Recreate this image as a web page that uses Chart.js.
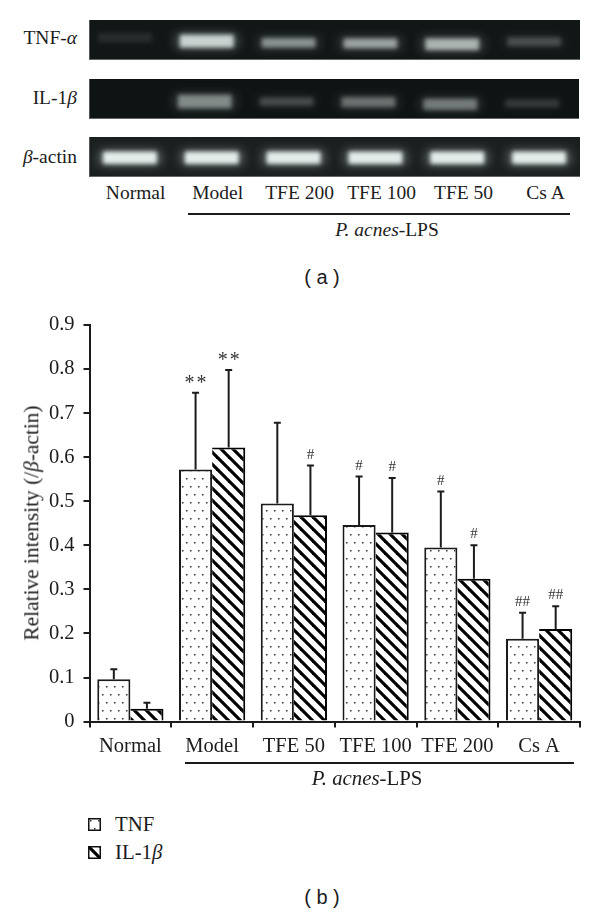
<!DOCTYPE html>
<html>
<head>
<meta charset="utf-8">
<script src="https://cdn.jsdelivr.net/npm/chart.js@4"></script>
<style>
  html, body { margin: 0; padding: 0; background: #fff; }
  #page { position: relative; width: 600px; height: 915px; overflow: hidden; font-family: "Liberation Serif", serif; color: #1c1c1c; }
  .strip { position: absolute; overflow: hidden; box-sizing: border-box; border-bottom: 1px solid #666; border-left: 1px solid #555; }
  .strip canvas { position: absolute; top: 0; }
  .lbl { position: absolute; white-space: nowrap; line-height: 1; font-size: 19.5px; }
  .big { font-size: 20.8px; }
  .rule { position: absolute; height: 1.5px; background: #1c1c1c; }
  .panel { font-family: "Liberation Sans", sans-serif; font-size: 20px; }
  #plot { position: absolute; left: 0; top: 300px; }
</style>
</head>
<body>
<div id="page"></div>
<script>
/******************************************************************
DATA
******************************************************************/
// panel b
const categories = ["Normal", "Model", "TFE 50", "TFE 100", "TFE 200", "Cs A"];
const tnfValues = [0.096, 0.572, 0.495, 0.446, 0.395, 0.188];
const tnfUpper = [0.119, 0.746, 0.678, 0.556, 0.522, 0.247];
const ilValues = [0.029, 0.622, 0.468, 0.429, 0.324, 0.210];
const ilUpper = [0.043, 0.798, 0.581, 0.553, 0.400, 0.262];
const tnfMarks = ["", "**", "", "#", "#", "##"];
const ilMarks = ["", "**", "#", "#", "#", "##"];
const yTicks = [0, 0.1, 0.2, 0.3, 0.4, 0.5, 0.6, 0.7, 0.8, 0.9];

// panel a, bands as [top, bottom] depth in the gel strip and a brightness
const gelLanes = ["Normal", "Model", "TFE 200", "TFE 100", "TFE 50", "Cs A"];
const tnfBands = [[0.34, 0.54], [0.38, 0.68], [0.46, 0.68], [0.47, 0.7], [0.47, 0.74], [0.44, 0.64]];
const tnfLevels = [0.09, 0.82, 0.5, 0.58, 0.66, 0.22];
const ilBands = [[0.5, 0.5], [0.4, 0.72], [0.47, 0.66], [0.46, 0.7], [0.5, 0.76], [0.52, 0.7]];
const ilLevels = [0, 0.46, 0.22, 0.36, 0.4, 0.15];
const actinBands = [[0.38, 0.66], [0.38, 0.66], [0.38, 0.66], [0.38, 0.66], [0.38, 0.66], [0.38, 0.66]];
const actinLevels = [1, 1, 1, 1, 1, 1];

const page = document.getElementById("page");

function label(html, x, y, align, cls) {
  const el = document.createElement("div");
  el.className = "lbl " + (cls || "");
  el.innerHTML = html;
  el.style.left = x + "px";
  el.style.top = y + "px";
  const tx = align === "right" ? "-100%" : align === "left" ? "0" : "-50%";
  el.style.transform = "translate(" + tx + ", -50%)";
  page.appendChild(el);
  return el;
}

function rule(x1, x2, y) {
  const el = document.createElement("div");
  el.className = "rule";
  el.style.left = x1 + "px";
  el.style.width = (x2 - x1) + "px";
  el.style.top = y + "px";
  page.appendChild(el);
}

/******************************************************************
PANEL A - GEL STRIPS
******************************************************************/
const bandBlur = {
  id: "bandBlur",
  beforeDatasetDraw(chart, args) {
    chart.ctx.filter = "blur(" + chart.data.datasets[args.index].blur + "px)";
  },
  afterDatasetDraw(chart) {
    chart.ctx.filter = "none";
  }
};

function gelStrip(left, top, width, shift, bg, bands, levels) {
  const strip = document.createElement("div");
  strip.className = "strip";
  strip.style.left = left + "px";
  strip.style.top = top + "px";
  strip.style.width = width + "px";
  strip.style.height = "40px";
  strip.style.background = bg;
  page.appendChild(strip);

  const canvas = document.createElement("canvas");
  canvas.width = 491;
  canvas.height = 40;
  canvas.style.left = shift + "px";
  strip.appendChild(canvas);

  new Chart(canvas.getContext("2d"), {
    type: "bar",
    data: {
      labels: gelLanes,
      datasets: [
        { data: bands, blur: 6, barThickness: 60, backgroundColor: levels.map(v => "rgba(225,238,235," + v * 0.5 + ")") },
        { data: bands, blur: 2, barThickness: 53, backgroundColor: levels.map(v => "rgba(240,248,246," + v * 0.95 + ")") }
      ]
    },
    options: {
      responsive: false,
      animation: false,
      grouped: false,
      layout: { padding: 0 },
      plugins: { legend: { display: false }, tooltip: { enabled: false } },
      scales: {
        x: { display: false, offset: true },
        y: { display: false, min: 0, max: 1, reverse: true }
      }
    },
    plugins: [bandBlur]
  });
}

gelStrip(88.5, 20, 491.5, -5.5, "#111616", tnfBands, tnfLevels);
gelStrip(88.5, 79, 490.5, -8, "#0e1313", ilBands, ilLevels);
gelStrip(88.5, 137, 491.5, -1, "#1a1f1f", actinBands, actinLevels);

label("TNF-<i>α</i>", 77, 38, "right");
label("IL-1<i>β</i>", 77, 98, "right");
label("<i>β</i>-actin", 77, 157, "right");
gelLanes.forEach((name, i) => label(name, 135.6 + i * 82, 193));
rule(187.5, 570, 213);
label("<i>P. acnes</i>-LPS", 387, 230);
label("( a )", 322, 277, "center", "panel");

/******************************************************************
PANEL B - BAR CHART
******************************************************************/
function dotPattern() {
  const tile = document.createElement("canvas");
  tile.width = 16;
  tile.height = 16;
  const c = tile.getContext("2d");
  c.fillStyle = "#fff";
  c.fillRect(0, 0, 16, 16);
  c.fillStyle = "#333";
  [[2, 2], [10, 2], [6, 10], [14, 10]].forEach(p => c.fillRect(p[0], p[1], 1.5, 1.5));
  return c.createPattern(tile, "repeat");
}

function stripePattern() {
  const size = 12;
  const tile = document.createElement("canvas");
  tile.width = size;
  tile.height = size;
  const c = tile.getContext("2d");
  c.fillStyle = "#fff";
  c.fillRect(0, 0, size, size);
  c.strokeStyle = "#000";
  c.lineWidth = 3.2;
  [-size, 0, size].forEach(o => {
    c.beginPath();
    c.moveTo(o - 2, -2);
    c.lineTo(o + size + 2, size + 2);
    c.stroke();
  });
  return c.createPattern(tile, "repeat");
}

const errorBars = {
  id: "errorBars",
  afterDatasetsDraw(chart) {
    const ctx = chart.ctx;
    const y = chart.scales.y;
    ctx.save();
    chart.data.datasets.forEach((ds, d) => {
      chart.getDatasetMeta(d).data.forEach((bar, i) => {
        const top = y.getPixelForValue(ds.upper[i]);
        ctx.strokeStyle = "#1c1c1c";
        ctx.lineWidth = 2;
        ctx.beginPath();
        ctx.moveTo(bar.x, bar.y);
        ctx.lineTo(bar.x, top);
        ctx.moveTo(bar.x - 3.5, top);
        ctx.lineTo(bar.x + 3.5, top);
        ctx.stroke();
        if (ds.marks[i]) {
          ctx.fillStyle = "#333";
          ctx.textAlign = "center";
          const stars = ds.marks[i] === "**";
          ctx.font = (stars ? 20 : 15) + "px 'Liberation Serif'";
          if (stars) {
            ctx.letterSpacing = "2px";
            ctx.textBaseline = "top";
            ctx.fillText(ds.marks[i], bar.x + 1, top - 19);
          } else {
            ctx.letterSpacing = "0px";
            ctx.textBaseline = "middle";
            ctx.fillText(ds.marks[i], bar.x, top - 11);
          }
        }
      });
    });
    ctx.restore();
  }
};

const plotCanvas = document.createElement("canvas");
plotCanvas.id = "plot";
plotCanvas.width = 600;
plotCanvas.height = 500;
page.appendChild(plotCanvas);

const serifFont = { family: "'Liberation Serif'", size: 20.5 };

new Chart(plotCanvas.getContext("2d"), {
  type: "bar",
  data: {
    labels: categories,
    datasets: [
      {
        label: "TNF", data: tnfValues, upper: tnfUpper, marks: tnfMarks,
        backgroundColor: dotPattern(), borderColor: "#1a1a1a", borderWidth: 2
      },
      {
        label: "IL-1β", data: ilValues, upper: ilUpper, marks: ilMarks,
        backgroundColor: stripePattern(), borderColor: "#000",
        borderSkipped: false, borderWidth: { top: 2, right: 2, bottom: 0, left: 0 }
      }
    ]
  },
  options: {
    responsive: false,
    animation: false,
    layout: { padding: { top: 25, right: 20, bottom: 0, left: 0 } },
    datasets: { bar: { categoryPercentage: 0.81, barPercentage: 1 } },
    plugins: { legend: { display: false }, tooltip: { enabled: false } },
    scales: {
      x: {
        afterFit(s) { s.height = 78.4; },
        border: { color: "#1c1c1c", width: 2 },
        grid: { drawOnChartArea: false, color: "#1c1c1c", lineWidth: 2, tickLength: 6 },
        ticks: { color: "#1c1c1c", font: serifFont, padding: 7, maxRotation: 0, autoSkip: false }
      },
      y: {
        min: 0,
        max: 0.9,
        afterFit(s) { s.width = 89.5; },
        afterBuildTicks(s) { s.ticks = yTicks.map(v => ({ value: v })); },
        border: { color: "#1c1c1c", width: 2 },
        grid: { drawOnChartArea: false, color: "#1c1c1c", lineWidth: 2, tickLength: 6 },
        ticks: { color: "#1c1c1c", font: serifFont, padding: 9, callback: v => (v === 0 ? "0" : v.toFixed(1)) }
      }
    }
  },
  plugins: [errorBars]
});

const yTitle = label("Relative intensity (/<i>β</i>-actin)", 32, 522.5, "center", "big");
yTitle.style.fontSize = "21.4px";
yTitle.style.transform = "translate(-50%, -50%) rotate(-90deg)";

rule(185, 574, 762);
label("<i>P. acnes</i>-LPS", 367, 778, "center", "big");

// legend
[["TNF", dotPattern()], ["IL-1<i>β</i>", stripePattern()]].forEach((item, i) => {
  const top = 818 + i * 28;
  const box = document.createElement("canvas");
  box.width = 13;
  box.height = 13;
  box.style.position = "absolute";
  box.style.left = "88px";
  box.style.top = top + "px";
  const c = box.getContext("2d");
  c.fillStyle = item[1];
  c.fillRect(0, 0, 13, 13);
  c.strokeStyle = "#111";
  c.lineWidth = 1.5;
  c.strokeRect(0.75, 0.75, 11.5, 11.5);
  page.appendChild(box);
  label(item[0], 115, top + 6, "left", "big");
});

label("( b )", 322, 897, "center", "panel");
</script>
</body>
</html>
